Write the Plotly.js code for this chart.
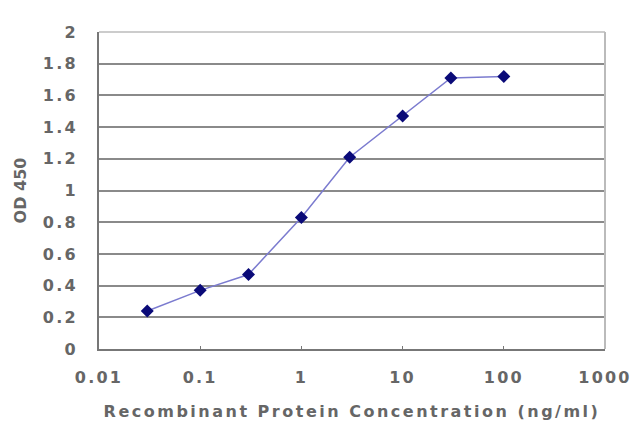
<!DOCTYPE html>
<html>
<head>
<meta charset="utf-8">
<script src="https://cdn.plot.ly/plotly-3.0.1.min.js"></script>
<style>
  html, body { margin: 0; padding: 0; background: #fff; }
  #chart { width: 640px; height: 427px; }
  /* the reference text is wide and slightly loose */
  #chart .xtick text, #chart .ytick text { letter-spacing: 2.2px; }
  #chart .xtitle { letter-spacing: 2.5px; }
</style>
</head>
<body>
<div id="chart"></div>
<script>
// concentration (ng/ml) and OD 450 readings
const concentration = [0.03, 0.1, 0.3, 1, 3, 10, 30, 100];
const od450 = [0.24, 0.37, 0.47, 0.83, 1.21, 1.47, 1.71, 1.72];

const xTickVals = [0.01, 0.1, 1, 10, 100, 1000];
const xTickText = ["0.01", "0.1", "1", "10", "100", "1000"];
const yTickVals = [0, 0.2, 0.4, 0.6, 0.8, 1, 1.2, 1.4, 1.6, 1.8, 2];
const yTickText = ["0", "0.2", "0.4", "0.6", "0.8", "1", "1.2", "1.4", "1.6", "1.8", "2"];

const curveData = [
    { x: concentration, y: od450, mode: "lines+markers", name: "OD 450",
      line: { color: "#7b7bcf", width: 1.5 },
      marker: { color: "#0a0a78", size: 10, symbol: "diamond" } },
];

const textFont = { family: "DejaVu Sans, sans-serif", size: 16, color: "#666666", weight: "bold" };

const curveLayout = {
    paper_bgcolor: "#ffffff",
    plot_bgcolor: "#ffffff",
    font: textFont,
    margin: { t: 32, b: 78, l: 99, r: 35 },
    showlegend: false,
    xaxis: { type: "log", range: [-2, 3], tickvals: xTickVals, ticktext: xTickText,
             showgrid: false, zeroline: false,
             showline: true, linecolor: "#777777", linewidth: 2,
             ticks: "inside", ticklen: 3, tickcolor: "#777777",
             ticklabelstandoff: 13, tickfont: textFont,
             title: { text: "Recombinant Protein Concentration (ng/ml)", standoff: 20, font: textFont } },
    yaxis: { range: [0, 2], tickvals: yTickVals, ticktext: yTickText,
             showgrid: true, gridcolor: "#8a8a8a", gridwidth: 2, zeroline: false,
             showline: true, linecolor: "#777777", linewidth: 2,
             ticks: "", ticklabelstandoff: 16, tickfont: textFont,
             title: { text: "OD 450", standoff: 19, font: textFont } },
    shapes: [
        // light frame on the top and right of the plot area
        { type: "line", xref: "paper", yref: "paper", x0: 0, x1: 1, y0: 1, y1: 1,
          line: { color: "#cccccc", width: 2 } },
        { type: "line", xref: "paper", yref: "paper", x0: 1, x1: 1, y0: 0, y1: 1,
          line: { color: "#bbbbbb", width: 2 } },
    ],
};

const curveConfig = { staticPlot: true };

Plotly.newPlot("chart", curveData, curveLayout, curveConfig);
</script>
</body>
</html>
